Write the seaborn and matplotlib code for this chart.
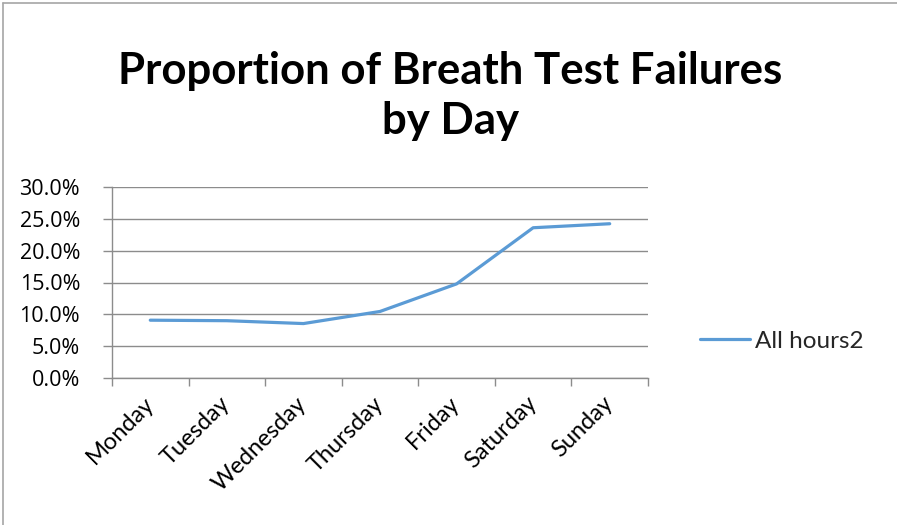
import matplotlib
matplotlib.use("Agg")
import matplotlib.pyplot as plt
import matplotlib.transforms as mtransforms
import seaborn as sns
import pandas as pd
from matplotlib.ticker import FuncFormatter, FixedLocator
from matplotlib.lines import Line2D

days = ["Monday", "Tuesday", "Wednesday", "Thursday", "Friday", "Saturday", "Sunday"]
values = [0.0908, 0.0900, 0.0855, 0.1045, 0.1478, 0.2360, 0.2423]
series_name = "All hours2"
title = "Proportion of Breath Test Failures\nby Day"

sns.set_theme(style="white")
plt.rcParams['font.family'] = ['Lato', 'DejaVu Sans']

df = pd.DataFrame({"day": days, "value": values, "series": series_name})

fig = plt.figure(figsize=(8.97, 5.25), dpi=100)
ax = fig.add_axes([112/897, 1-378/525, (648-112)/897, (378-187)/525])

line_color = "#5B9BD5"
grid_color = "#8C8C8C"

sns.lineplot(data=df, x="day", y="value", sort=False, ax=ax, color=line_color,
             linewidth=2.3, legend=False)

ax.set_xlim(-0.5, len(days) - 0.5)
ax.set_ylim(0, 0.30)
ax.yaxis.set_major_locator(FixedLocator([0, 0.05, 0.10, 0.15, 0.20, 0.25, 0.30]))
ax.yaxis.set_major_formatter(FuncFormatter(lambda v, p: f"{v*100:.1f}%"))
ax.grid(axis="y", color=grid_color, linewidth=1.0)
ax.grid(axis="x", visible=False)
ax.set_axisbelow(True)

# x ticks at category boundaries, labels at centers
ax.set_xticks([i - 0.5 for i in range(len(days) + 1)])
ax.set_xticklabels([])
ax.set_xticks(range(len(days)), minor=True)
ax.set_xticklabels(days, minor=True, rotation=45, ha="right", va="center",
                   rotation_mode="anchor", fontsize=17, color="black")
offset = mtransforms.ScaledTranslation(6/100, 0, fig.dpi_scale_trans)
for lab in ax.get_xticklabels(minor=True):
    lab.set_transform(lab.get_transform() + offset)
ax.tick_params(axis="x", which="minor", length=0, pad=16)
ax.tick_params(axis="x", which="major", length=6, width=1, color=grid_color, direction="out", bottom=True)
ax.tick_params(axis="y", length=6.5, width=1, color=grid_color, direction="out", left=True,
               labelcolor="black", pad=16.5)
for lab in ax.get_yticklabels():
    lab.set_fontfamily(["Open Sans", "DejaVu Sans"])
    lab.set_fontsize(15.5)

for s in ["top", "right"]:
    ax.spines[s].set_visible(False)
for s in ["left", "bottom"]:
    ax.spines[s].set_visible(True)
    ax.spines[s].set_color(grid_color)
    ax.spines[s].set_linewidth(1.0)

ax.set_xlabel("")
ax.set_ylabel("")

fig.text(0.502, 1 - 96/525, title, ha="center", va="center", fontsize=31.5,
         fontweight="bold", color="black", linespacing=1.3)

handle = Line2D([], [], color=line_color, linewidth=2.3)
fig.legend([handle], [series_name], loc="center left",
           bbox_to_anchor=(678/897, 1 - 341/525), frameon=False,
           fontsize=17.5, handlelength=2.05, handletextpad=0.2)

# chart area border (left and top visible)
fig.add_artist(Line2D([2.5/897, 2.5/897], [0, 1 - 2.5/525], transform=fig.transFigure,
                      color="#A6A6A6", linewidth=1.2))
fig.add_artist(Line2D([2.5/897, 1], [1 - 2.5/525, 1 - 2.5/525], transform=fig.transFigure,
                      color="#A6A6A6", linewidth=1.2))

fig.savefig("out.png", dpi=100, facecolor="white")
